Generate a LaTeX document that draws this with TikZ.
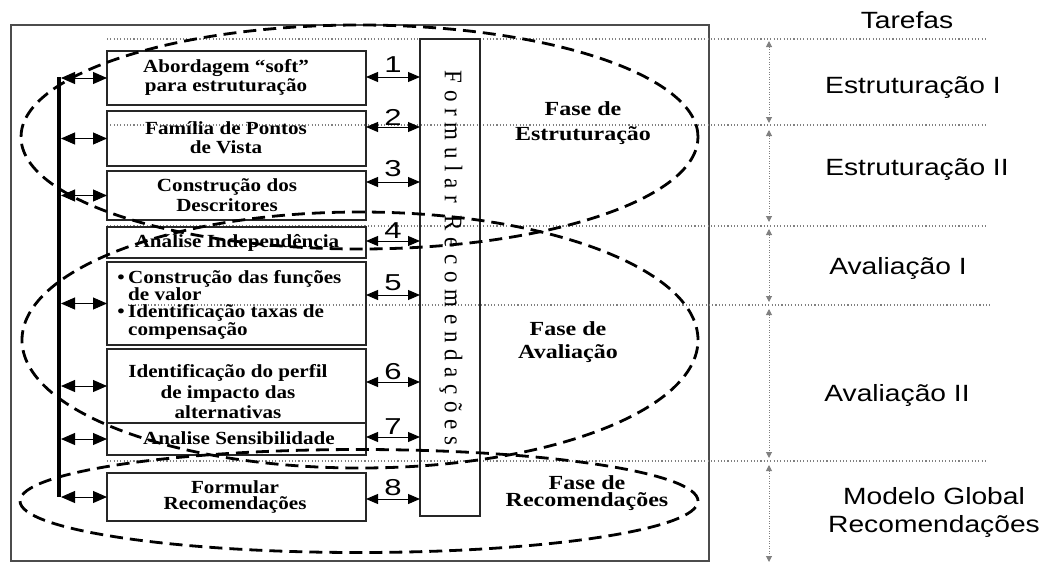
\documentclass[tikz,border=0pt]{standalone}
\usepackage{fontspec}
\setmainfont{Liberation Serif}
\newfontfamily\arialf{Liberation Sans}
\newfontfamily\spacedf[LetterSpace=29]{Liberation Serif}
\usetikzlibrary{arrows.meta}
\begin{document}
\begin{tikzpicture}[x=1pt,y=-1pt,
  frame/.style={draw=black!70, line width=1.1pt},
  boxn/.style={draw=black!85, line width=1.2pt, inner sep=0pt, outer sep=0pt, minimum width=259pt},
  btxt/.style={font=\bfseries\fontsize{18.5}{19.5}\selectfont, align=center, inner sep=0pt, xscale=1.14},
  ptxt/.style={align=center, inner sep=0pt, xscale=1.2},
  stxt/.style={font=\arialf\fontsize{23.5}{28}\selectfont, align=center, inner sep=0pt, xscale=1.2},
  num/.style={font=\arialf\fontsize{23}{24}\selectfont, inner sep=0pt, xscale=1.35},
  guide/.style={draw=black!50, line width=1.1pt, dash pattern=on 1.1pt off 2.2pt},
  tarr/.style={draw=black!50, line width=1pt, dash pattern=on 1pt off 1.5pt, {Triangle[length=6pt,width=6pt]}-{Triangle[length=6pt,width=6pt]}},
  larr/.style={line width=1pt, {Triangle[length=14pt,width=12pt]}-{Triangle[length=14pt,width=12pt]}},
  rarr/.style={line width=1pt, {Triangle[length=12pt,width=10pt]}-{Triangle[length=12pt,width=10pt]}},
  ell/.style={line width=2.8pt, dash pattern=on 13pt off 7pt},
]
\useasboundingbox (0,0) rectangle (1042,563);
% frame
\draw[frame] (11,25) rectangle (709,561);
% guide lines
\draw[guide] (107,39) -- (985,39);
\draw[guide] (107,125) -- (985,125);
\draw[guide] (107,226) -- (985,226);
\draw[guide] (128,305) -- (990,305);
\draw[guide] (107,461) -- (985,461);
% vertical task arrows
\draw[tarr] (769,41) -- (769,123);
\draw[tarr] (769,130) -- (769,222);
\draw[tarr] (769,229) -- (769,302);
\draw[tarr] (769,309) -- (769,458);
\draw[tarr] (769,465) -- (769,562);
% boxes
\node[boxn, minimum height=54pt] (b1) at (236.5,78) {};
\node[boxn, minimum height=55pt] (b2) at (236.5,138.5) {};
\node[boxn, minimum height=49pt] (b3) at (236.5,195.5) {};
\node[boxn, minimum height=31pt] (b4) at (236.5,242.5) {};
\node[boxn, minimum height=83pt] (b5) at (236.5,303.5) {};
\node[boxn, minimum height=74pt] (b6) at (236.5,386) {};
\node[boxn, minimum height=32pt] (b7) at (236.5,439) {};
\node[boxn, minimum height=48pt] (b8) at (236.5,497) {};
\node[boxn, minimum width=60pt, minimum height=477pt] (tall) at (450,277.5) {};
% box texts
\node[btxt] (t1) at (226,77.5) {Abordagem “soft”\\para estruturação};
\node[btxt] (t2) at (226,137.5) {Família de Pontos\\de Vista};
\node[btxt] (t3) at (227,195) {Construção dos\\Descritores};
\node[btxt] (t4) at (237,243) {Análise Independência};
\node[btxt, font=\bfseries\fontsize{18.5}{13.5}\selectfont, align=left, anchor=west] (t5a) at (128,285.5) {\llap{•\,}Construção das funções\\de valor};
\node[btxt, font=\bfseries\fontsize{18.5}{13.5}\selectfont, align=left, anchor=west] (t5b) at (128,322) {\llap{•\,}Identificação taxas de\\compensação};
\node[btxt, font=\bfseries\fontsize{18.5}{20.5}\selectfont] (t6) at (228,392) {Identificação do perfil\\de impacto das\\alternativas};
\node[btxt] (t7) at (239,438) {Analise Sensibilidade};
\node[btxt, font=\bfseries\fontsize{18.5}{16}\selectfont] (t8) at (235,497) {Formular\\Recomendações};
% tall text
\node[xscale=1.1, rotate=-90, inner sep=0pt, font=\spacedf\fontsize{23}{26}\selectfont] (ttxt) at (451,258) {Formular Recomendações};
% left bar
\coordinate (bartop) at (59,77);
\coordinate (barbot) at (59,497);
\coordinate (barx) at (61,0);
\draw[line width=4pt] (bartop) -- (barbot);
\foreach \b in {b1,b2,b3,b5,b6,b7,b8}{
  \draw[larr] (\b.west -| barx) -- (\b.west);
}
% right numbered arrows
\draw[rarr] ([yshift=1pt]b1.east) -- ([yshift=1pt]b1.east -| tall.west) node[num, midway, yshift=12pt] (n1) {1};
\draw[rarr] ([yshift=11.5pt]b2.east) -- ([yshift=11.5pt]b2.east -| tall.west) node[num, midway, yshift=10pt] (n2) {2};
\draw[rarr] ([yshift=13.5pt]b3.east) -- ([yshift=13.5pt]b3.east -| tall.west) node[num, midway, yshift=13pt] (n3) {3};
\draw[rarr] ([yshift=1.5pt]b4.east) -- ([yshift=1.5pt]b4.east -| tall.west) node[num, midway, yshift=10pt] (n4) {4};
\draw[rarr] ([yshift=8.5pt]b5.east) -- ([yshift=8.5pt]b5.east -| tall.west) node[num, midway, yshift=12pt] (n5) {5};
\draw[rarr] ([yshift=4pt]b6.east) -- ([yshift=4pt]b6.east -| tall.west) node[num, midway, yshift=10pt] (n6) {6};
\draw[rarr] ([yshift=2pt]b7.east) -- ([yshift=2pt]b7.east -| tall.west) node[num, midway, yshift=10pt] (n7) {7};
\draw[rarr] ([yshift=-2pt]b8.east) -- ([yshift=-2pt]b8.east -| tall.west) node[num, midway, yshift=11pt] (n8) {8};
% phase labels
\node[ptxt, font=\bfseries\fontsize{20}{25}\selectfont] (p1) at (583,123) {Fase de\\Estruturação};
\node[ptxt, font=\bfseries\fontsize{20}{23}\selectfont] (p2) at (568,342) {Fase de\\Avaliação};
\node[ptxt, font=\bfseries\fontsize{20}{17}\selectfont] (p3) at (587,493) {Fase de\\Recomendações};
% right labels
\node[stxt] (l0) at (907,20) {Tarefas};
\node[stxt] (l1) at (913,88) {Estruturação I};
\node[stxt] (l2) at (917,170) {Estruturação II};
\node[stxt] (l3) at (898,268) {Avaliação I};
\node[stxt] (l4) at (897,395) {Avaliação II};
\node[stxt] (l5) at (934,512) {Modelo Global\\Recomendações};
% dashed phase ellipses
\draw[ell] (359.5,137) ellipse [x radius=338.5pt, y radius=112pt];
\draw[ell] (360,340) ellipse [x radius=338pt, y radius=128pt];
\draw[ell] (359,501) ellipse [x radius=339pt, y radius=51.5pt];
\end{tikzpicture}
\end{document}
